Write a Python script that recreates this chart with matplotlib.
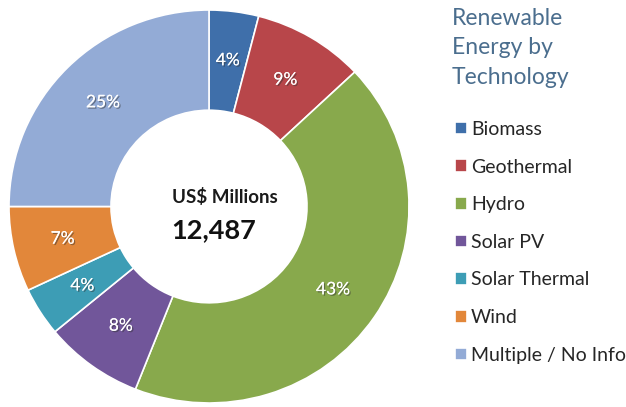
import matplotlib
matplotlib.use("Agg")
import matplotlib.pyplot as plt
import matplotlib.patheffects as pe

# data (share of US$ millions by technology)
technologies = ["Biomass", "Geothermal", "Hydro", "Solar PV",
                "Solar Thermal", "Wind", "Multiple / No Info"]
shares = [4, 9, 43, 8, 4, 7, 25]
colors = ["#3F6FAA", "#B8464A", "#88A94C", "#71569A",
          "#3D9DB5", "#E2873A", "#93ABD6"]
total_label = "US$ Millions"
total_value = "12,487"
legend_title = "Renewable\nEnergy by\nTechnology"

plt.rcParams["font.family"] = ["Lato", "DejaVu Sans"]

W, H = 626, 407
fig = plt.figure(figsize=(W / 100, H / 100), dpi=100)
fig.patch.set_facecolor("white")

# donut axes: ~400 x 393 px box, centred near (209, 207)
ax = fig.add_axes([9 / W, 4 / H, 400 / W, 393 / H])
wedges, texts, autotexts = ax.pie(
    shares, colors=colors, startangle=90, counterclock=False,
    radius=1.0, autopct="%d%%", pctdistance=0.75,
    wedgeprops=dict(width=0.51, edgecolor="white", linewidth=1.2),
    textprops=dict(color="white", fontsize=12.5),
)
shadow = [pe.withSimplePatchShadow(offset=(1, -1), shadow_rgbFace="#333333", alpha=0.5),
          pe.Normal()]
for t in autotexts:
    t.set_path_effects(shadow)
ax.set_aspect("auto")
ax.set_xlim(-1, 1)
ax.set_ylim(-1, 1)

# centre labels
fig.text(172 / W, 1 - 197 / H, total_label, ha="left", va="center",
         fontsize=13.5, fontweight="bold", color="#1a1a1a")
fig.text(171 / W, 1 - 230 / H, total_value, ha="left", va="center",
         fontsize=19.5, fontweight="bold", color="#111111")

# legend title and entries
fig.text(452 / W, 1 - 8 / H, legend_title, ha="left", va="top",
         fontsize=16.5, color="#4B6E8E", linespacing=1.5)
fig.legend(wedges, technologies, loc="upper left",
           bbox_to_anchor=(455 / W, 1 - 121 / H), frameon=False,
           fontsize=14, labelcolor="#262626",
           handlelength=0.62, handleheight=0.62, handletextpad=0.2,
           labelspacing=1.06, borderaxespad=0, borderpad=0)

fig.savefig("out.png", dpi=100)
